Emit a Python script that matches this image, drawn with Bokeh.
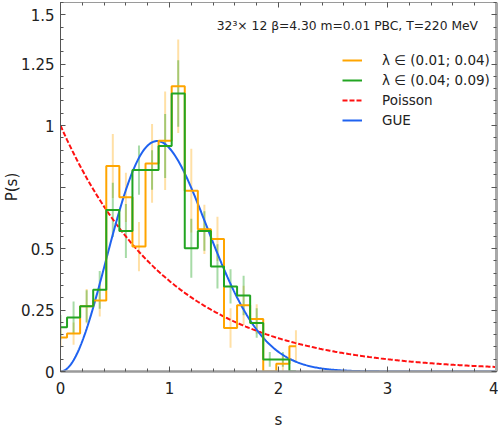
import numpy as np
from bokeh.plotting import figure
from bokeh.models import (Range1d, LinearAxis, FixedTicker, Legend, LegendItem,
                          Label, ColumnDataSource)
from bokeh.embed import file_html
from bokeh.resources import INLINE

# ---- data ----
centers = [0.00, 0.12, 0.24, 0.36, 0.48, 0.60, 0.72, 0.84, 0.96, 1.08,
           1.20, 1.32, 1.44, 1.56, 1.68, 1.80, 1.92, 2.04, 2.16]
p_low = [0.138, 0.154, 0.265, 0.289, 0.835, 0.708, 0.508, 0.846, 0.938, 1.160,
         0.735, 0.578, 0.539, 0.177, 0.269, 0.213, 0.000, 0.032, 0.103]
err_low = [0.04, 0.045, 0.07, 0.065, 0.13, 0.10, 0.10, 0.16, 0.20, 0.19,
           0.17, 0.10, 0.09, 0.08, 0.08, 0.06, 0.0, 0.03, 0.065]
p_high = [0.180, 0.220, 0.265, 0.332, 0.657, 0.571, 0.819, 0.819, 0.917, 1.130,
          0.501, 0.571, 0.427, 0.346, 0.309, 0.197, 0.049, 0.049, 0.000]
err_high = [0.05, 0.065, 0.065, 0.077, 0.11, 0.11, 0.10, 0.08, 0.13, 0.135,
            0.12, 0.08, 0.09, 0.07, 0.08, 0.06, 0.03, 0.03, 0.0]

label_low = "λ ∈ (0.01; 0.04)"
label_high = "λ ∈ (0.04; 0.09)"
title_text = "32³× 12 β=4.30 m=0.01 PBC, T=220 MeV"
x_title = "s"
y_title = "P(s)"

x_ticks = [0, 1, 2, 3, 4]
x_minor = [round(0.2 * i, 2) for i in range(21)]
y_ticks = [0, 0.25, 0.5, 0.75, 1.0, 1.25, 1.45]
y_minor = [round(0.05 * i, 2) for i in range(31)]
y_labels = {0: "0", 0.25: "0.25", 0.5: "0.5", 0.75: "", 1.0: "1", 1.25: "1.25", 1.45: "1.5"}

# theory curves
s = np.linspace(0, 4, 401)
poisson = np.exp(-s)
gue = 32.0 / np.pi**2 * s**2 * np.exp(-4.0 * s**2 / np.pi)

ORANGE = "#FFA500"
GREEN = "#22A522"
RED = "#FF1010"
BLUE = "#1F62F0"
FONT = "DejaVu Sans"
TXT = "#222222"

p = figure(width=498, height=431, output_backend="svg", toolbar_location=None,
           x_range=Range1d(0, 4), y_range=Range1d(0, 1.5),
           min_border_left=60, min_border_right=2, min_border_top=2,
           min_border_bottom=59, x_axis_label=x_title, y_axis_label=y_title)
p.outline_line_color = None
p.xgrid.visible = False
p.ygrid.visible = False
p.background_fill_color = "white"

def style_axis(ax, color, width):
    ax.axis_line_color = color
    ax.axis_line_width = width
    ax.major_tick_line_color = "#555555"
    ax.minor_tick_line_color = "#555555"
    ax.major_tick_in = 5
    ax.major_tick_out = 0
    ax.minor_tick_in = 3
    ax.minor_tick_out = 0
    ax.major_label_text_font = FONT
    ax.major_label_text_font_size = "15px"
    ax.major_label_text_color = TXT
    ax.axis_label_text_font = FONT
    ax.axis_label_text_font_size = "15px"
    ax.axis_label_text_font_style = "normal"
    ax.axis_label_text_color = TXT

xa = p.xaxis[0]
ya = p.yaxis[0]
xa.ticker = FixedTicker(ticks=x_ticks, minor_ticks=x_minor)
ya.ticker = FixedTicker(ticks=y_ticks, minor_ticks=y_minor)
style_axis(xa, "#9a9a9a", 2.5)
style_axis(ya, "#555555", 1)
xa.major_label_standoff = 10
xa.axis_label_standoff = 14
ya.major_label_standoff = 6
ya.axis_label_standoff = -3
ya.major_label_overrides = y_labels

# mirror axes (ticks only)
top = LinearAxis(ticker=FixedTicker(ticks=x_ticks, minor_ticks=x_minor))
right = LinearAxis(ticker=FixedTicker(ticks=y_ticks, minor_ticks=y_minor))
style_axis(top, "#9a9a9a", 1)
style_axis(right, "#a8a8a8", 3)
for ax, ticks in ((top, x_ticks), (right, y_ticks)):
    ax.major_label_overrides = {t: "" for t in ticks}
    ax.major_label_standoff = 0
    ax.major_label_text_font_size = "0px"
    ax.axis_label_standoff = 0
p.add_layout(top, "above")
p.add_layout(right, "right")

# error bars
lo_src = ColumnDataSource(dict(x=centers, y0=[v - e for v, e in zip(p_low, err_low)],
                               y1=[v + e for v, e in zip(p_low, err_low)]))
hi_src = ColumnDataSource(dict(x=centers, y0=[v - e for v, e in zip(p_high, err_high)],
                               y1=[v + e for v, e in zip(p_high, err_high)]))
p.segment(x0="x", y0="y0", x1="x", y1="y1", source=lo_src,
          line_color=ORANGE, line_alpha=0.35, line_width=2)
p.segment(x0="x", y0="y0", x1="x", y1="y1", source=hi_src,
          line_color=GREEN, line_alpha=0.4, line_width=2)

r_pois = p.line(s, poisson, line_color=RED, line_width=2, line_dash="5 2")
r_gue = p.line(s, gue, line_color=BLUE, line_width=2)

r_lo = p.step(centers, p_low, mode="center", line_color=ORANGE, line_width=2)
r_hi = p.step(centers, p_high, mode="center", line_color=GREEN, line_width=2)

# legend-only vertical error-bar markers
d_lo = p.scatter([], [], marker="dash", angle=np.pi / 2, size=16,
                 line_color=ORANGE, line_alpha=0.35, line_width=2)
d_hi = p.scatter([], [], marker="dash", angle=np.pi / 2, size=16,
                 line_color=GREEN, line_alpha=0.4, line_width=2)

legend = Legend(items=[
    LegendItem(label=label_low, renderers=[d_lo, r_lo]),
    LegendItem(label=label_high, renderers=[d_hi, r_hi]),
    LegendItem(label="Poisson", renderers=[r_pois]),
    LegendItem(label="GUE", renderers=[r_gue]),
], location=(282, 241))
legend.label_text_font = FONT
legend.label_text_font_size = "13.5px"
legend.label_text_color = TXT
legend.glyph_width = 20
legend.glyph_height = 20
legend.label_height = 20
legend.label_standoff = 20
legend.spacing = 0
legend.padding = 0
legend.margin = 0
legend.border_line_color = None
legend.background_fill_alpha = 0
p.add_layout(legend)

p.add_layout(Label(x=3.83, y=1.405, text=title_text, text_align="right",
                   text_baseline="middle", text_font=FONT, text_font_size="12.3px",
                   text_color=TXT))

open("out.html", "w").write(file_html(p, INLINE))
